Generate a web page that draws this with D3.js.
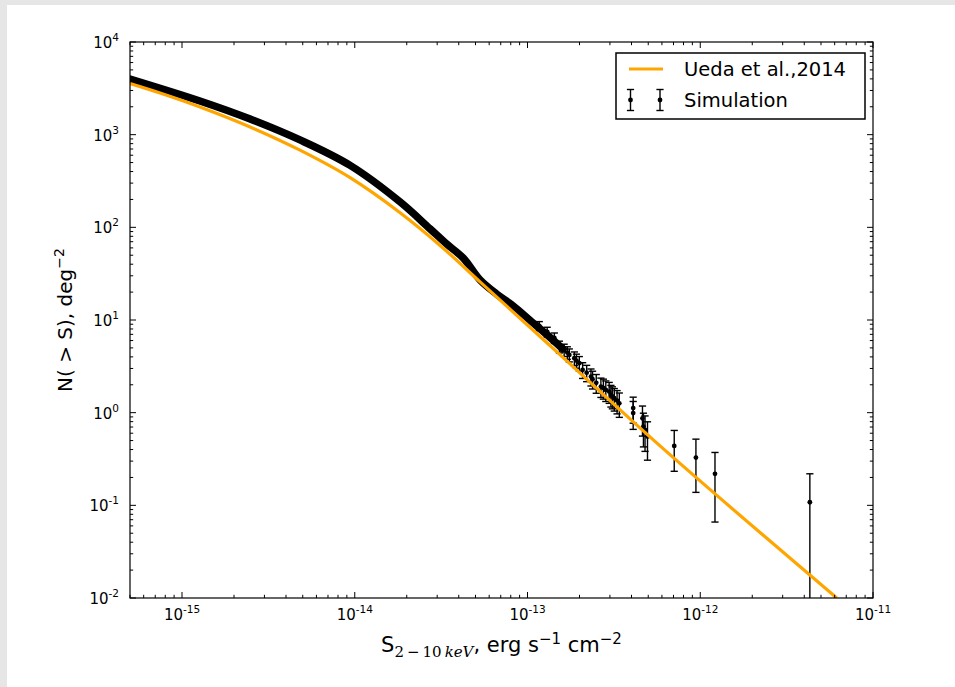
<!DOCTYPE html>
<html>
<head>
<meta charset="utf-8">
<script src="https://cdn.jsdelivr.net/npm/d3@7"></script>
<style>
  html, body { margin: 0; padding: 0; background: #fff; }
  svg { display: block; font-family: "DejaVu Sans", sans-serif; }
</style>
</head>
<body>
<svg id="chart" width="955" height="687"></svg>
<script>
// ---------------- data ----------------
const xTickValues = [1e-15, 1e-14, 1e-13, 1e-12, 1e-11];
const xTickExps = ["-15", "-14", "-13", "-12", "-11"];
const yTickValues = [1e-2, 1e-1, 1e0, 1e1, 1e2, 1e3, 1e4];
const yTickExps = ["-2", "-1", "0", "1", "2", "3", "4"];

// Ueda et al. 2014 model curve
const uedaFlux = [5.0e-16, 7.46e-16, 1.27e-15, 2.48e-15, 4.82e-15, 9.40e-15, 1.83e-14, 3.12e-14, 5.31e-14, 1.54e-13, 5.85e-13, 6.17e-12];
const uedaN    = [3565, 2818, 1991, 1211, 681, 344, 144, 63.8, 25.8, 4.23, 0.438, 0.01];

// Simulation: dense faint-flux part (overlapping points)
const denseFlux = [5.0e-16, 1.27e-15, 2.48e-15, 4.82e-15, 9.40e-15, 1.83e-14, 2.73e-14, 3.40e-14, 4.24e-14, 5.31e-14, 6.62e-14, 8.26e-14, 1.03e-13, 1.28e-13, 1.60e-13];
const denseN    = [3990, 2311, 1476, 877, 466, 188, 96.2, 66.2, 46.8, 27.1, 19.1, 14.2, 10.0, 7.08, 4.88];

// Simulation: individual points with error bars
const simFlux = [1.17e-13, 1.30e-13, 1.43e-13, 1.53e-13, 1.63e-13, 1.70e-13, 1.746e-13, 1.867e-13, 1.92e-13, 1.995e-13, 2.085e-13, 2.20e-13, 2.33e-13, 2.38e-13, 2.50e-13, 2.66e-13, 2.75e-13, 2.84e-13, 2.97e-13, 3.04e-13, 3.10e-13, 3.18e-13, 3.30e-13, 3.40e-13, 4.09e-13, 4.09e-13, 4.63e-13, 4.69e-13, 4.79e-13, 4.95e-13, 7.07e-13, 9.44e-13, 1.217e-12, 4.31e-12];
const simN    = [8.64, 7.45, 6.41, 5.16, 4.76, 4.45, 4.20, 3.87, 3.65, 3.42, 2.90, 2.70, 2.45, 2.30, 2.10, 1.91, 1.85, 1.76, 1.69, 1.56, 1.50, 1.43, 1.35, 1.26, 1.12, 0.99, 0.869, 0.707, 0.652, 0.552, 0.438, 0.328, 0.219, 0.108];
const simErr  = [0.97, 0.90, 0.83, 0.75, 0.72, 0.69, 0.67, 0.65, 0.63, 0.61, 0.56, 0.54, 0.51, 0.50, 0.48, 0.45, 0.45, 0.44, 0.43, 0.41, 0.40, 0.39, 0.38, 0.37, 0.35, 0.33, 0.31, 0.28, 0.27, 0.245, 0.205, 0.19, 0.153, 0.111];

const legendLabels = ["Ueda et al.,2014", "Simulation"];

// ---------------- layout ----------------
const svg = d3.select("#chart");
const W = 955, H = 687;
const plot = { left: 130, right: 873, top: 42, bottom: 598 };
const orange = "#FFA500";

// grey frame of the screenshot
svg.append("rect").attr("x", 0).attr("y", 0).attr("width", W).attr("height", 5).attr("fill", "#e6e6e6");
svg.append("rect").attr("x", 0).attr("y", 0).attr("width", 7).attr("height", H).attr("fill", "#e6e6e6");

const x = d3.scaleLog().domain([5e-16, 1e-11]).range([plot.left, plot.right]);
const y = d3.scaleLog().domain([1e-2, 1e4]).range([plot.bottom, plot.top]);

svg.append("defs").append("clipPath").attr("id", "clip")
  .append("rect").attr("x", plot.left).attr("y", plot.top)
  .attr("width", plot.right - plot.left).attr("height", plot.bottom - plot.top);

const g = svg.append("g").attr("clip-path", "url(#clip)");

// dense simulation band
const dense = denseFlux.map((f, i) => ({ f, n: denseN[i] }));
g.append("path").datum(dense)
  .attr("fill", "none").attr("stroke", "#000").attr("stroke-width", 7.5)
  .attr("stroke-linecap", "round").attr("stroke-linejoin", "round")
  .attr("d", d3.line().x(d => x(d.f)).y(d => y(d.n)).curve(d3.curveCatmullRom.alpha(0.5)));

// error-bar points
const sim = simFlux.map((f, i) => ({ f, n: simN[i], e: simErr[i] }));
const capW = 3.6;
sim.forEach(d => {
  const cx = x(d.f);
  const yt = y(d.n + d.e);
  const lo = d.n - d.e;
  const yb = lo > 0 ? y(lo) : plot.bottom + 10;
  g.append("line").attr("x1", cx).attr("x2", cx).attr("y1", yt).attr("y2", yb)
    .attr("stroke", "#000").attr("stroke-width", 1.4);
  g.append("line").attr("x1", cx - capW).attr("x2", cx + capW).attr("y1", yt).attr("y2", yt)
    .attr("stroke", "#000").attr("stroke-width", 1.4);
  if (lo > 0) {
    g.append("line").attr("x1", cx - capW).attr("x2", cx + capW).attr("y1", yb).attr("y2", yb)
      .attr("stroke", "#000").attr("stroke-width", 1.4);
  }
  g.append("circle").attr("cx", cx).attr("cy", y(d.n)).attr("r", 2.4).attr("fill", "#000");
});

// Ueda curve
const ueda = uedaFlux.map((f, i) => ({ f, n: uedaN[i] }));
g.append("path").datum(ueda)
  .attr("fill", "none").attr("stroke", orange).attr("stroke-width", 3.2)
  .attr("d", d3.line().x(d => x(d.f)).y(d => y(d.n)).curve(d3.curveCatmullRom.alpha(0.5)));

// ---------------- axes ----------------
function minorTicks(scale) {
  const [a, b] = scale.domain();
  const out = [];
  for (let e = Math.floor(Math.log10(a)); e <= Math.ceil(Math.log10(b)); e++) {
    for (let m = 2; m <= 9; m++) {
      const v = m * Math.pow(10, e);
      if (v >= a * 0.9999 && v <= b * 1.0001) out.push(v);
    }
  }
  return out;
}
const majorLen = 6, minorLen = 3.2;
const axG = svg.append("g").attr("stroke", "#000").attr("stroke-width", 1);

const xAll = xTickValues.map(v => ({ v, len: majorLen })).concat(minorTicks(x).map(v => ({ v, len: minorLen })));
xAll.forEach(t => {
  const px = x(t.v);
  axG.append("line").attr("x1", px).attr("x2", px).attr("y1", plot.bottom).attr("y2", plot.bottom - t.len);
  axG.append("line").attr("x1", px).attr("x2", px).attr("y1", plot.top).attr("y2", plot.top + t.len);
});
const yAll = yTickValues.map(v => ({ v, len: majorLen })).concat(minorTicks(y).map(v => ({ v, len: minorLen })));
yAll.forEach(t => {
  const py = y(t.v);
  axG.append("line").attr("x1", plot.left).attr("x2", plot.left + t.len).attr("y1", py).attr("y2", py);
  axG.append("line").attr("x1", plot.right).attr("x2", plot.right - t.len).attr("y1", py).attr("y2", py);
});

svg.append("rect").attr("x", plot.left).attr("y", plot.top)
  .attr("width", plot.right - plot.left).attr("height", plot.bottom - plot.top)
  .attr("fill", "none").attr("stroke", "#000").attr("stroke-width", 1.2);

// tick labels
const tickFont = 15, supFont = 10.5;
xTickValues.forEach((v, i) => {
  const t = svg.append("text").attr("x", x(v)).attr("y", plot.bottom + 22)
    .attr("text-anchor", "middle").attr("font-size", tickFont).attr("fill", "#000");
  t.append("tspan").text("10");
  t.append("tspan").attr("dy", -7).attr("font-size", supFont).text(xTickExps[i]);
});
yTickValues.forEach((v, i) => {
  const t = svg.append("text").attr("x", plot.left - 11).attr("y", y(v) + 6)
    .attr("text-anchor", "end").attr("font-size", tickFont).attr("fill", "#000");
  t.append("tspan").text("10");
  t.append("tspan").attr("dy", -7).attr("font-size", supFont).text(yTickExps[i]);
});

// axis labels
const xl = svg.append("text").attr("x", (plot.left + plot.right) / 2).attr("y", 652)
  .attr("text-anchor", "middle").attr("font-size", 21).attr("fill", "#000");
xl.append("tspan").text("S");
xl.append("tspan").attr("dy", 5).attr("font-size", 15).attr("font-family", "DejaVu Serif").text("2\u2009\u2212\u200910\u2009");
xl.append("tspan").attr("font-size", 15).attr("font-family", "DejaVu Serif").attr("font-style", "italic").text("keV");
xl.append("tspan").attr("dy", -5).text(", erg s");
xl.append("tspan").attr("dy", -8).attr("font-size", 15).text("\u22121");
xl.append("tspan").attr("dy", 8).text(" cm");
xl.append("tspan").attr("dy", -8).attr("font-size", 15).text("\u22122");

const yl = svg.append("text").attr("transform", `translate(72, ${(plot.top + plot.bottom) / 2}) rotate(-90)`)
  .attr("text-anchor", "middle").attr("font-size", 20).attr("fill", "#000");
yl.append("tspan").text("N( > S), deg");
yl.append("tspan").attr("dy", -8).attr("font-size", 14).text("\u22122");

// ---------------- legend ----------------
const lg = svg.append("g");
lg.append("rect").attr("x", 616).attr("y", 53).attr("width", 249).attr("height", 66)
  .attr("fill", "#fff").attr("stroke", "#000").attr("stroke-width", 1.5);
lg.append("line").attr("x1", 629).attr("x2", 663).attr("y1", 69).attr("y2", 69)
  .attr("stroke", orange).attr("stroke-width", 3.2);
lg.append("text").attr("x", 684).attr("y", 76).attr("font-size", 19.5).attr("fill", "#000").text(legendLabels[0]);
[630.5, 660].forEach(cx => {
  const cy = 100;
  lg.append("line").attr("x1", cx).attr("x2", cx).attr("y1", cy - 10.5).attr("y2", cy + 10.5).attr("stroke", "#000").attr("stroke-width", 1.4);
  lg.append("line").attr("x1", cx - 3.6).attr("x2", cx + 3.6).attr("y1", cy - 10.5).attr("y2", cy - 10.5).attr("stroke", "#000").attr("stroke-width", 1.4);
  lg.append("line").attr("x1", cx - 3.6).attr("x2", cx + 3.6).attr("y1", cy + 10.5).attr("y2", cy + 10.5).attr("stroke", "#000").attr("stroke-width", 1.4);
  lg.append("circle").attr("cx", cx).attr("cy", cy).attr("r", 2.4).attr("fill", "#000");
});
lg.append("text").attr("x", 684).attr("y", 107).attr("font-size", 19.5).attr("fill", "#000").text(legendLabels[1]);
</script>
</body>
</html>
